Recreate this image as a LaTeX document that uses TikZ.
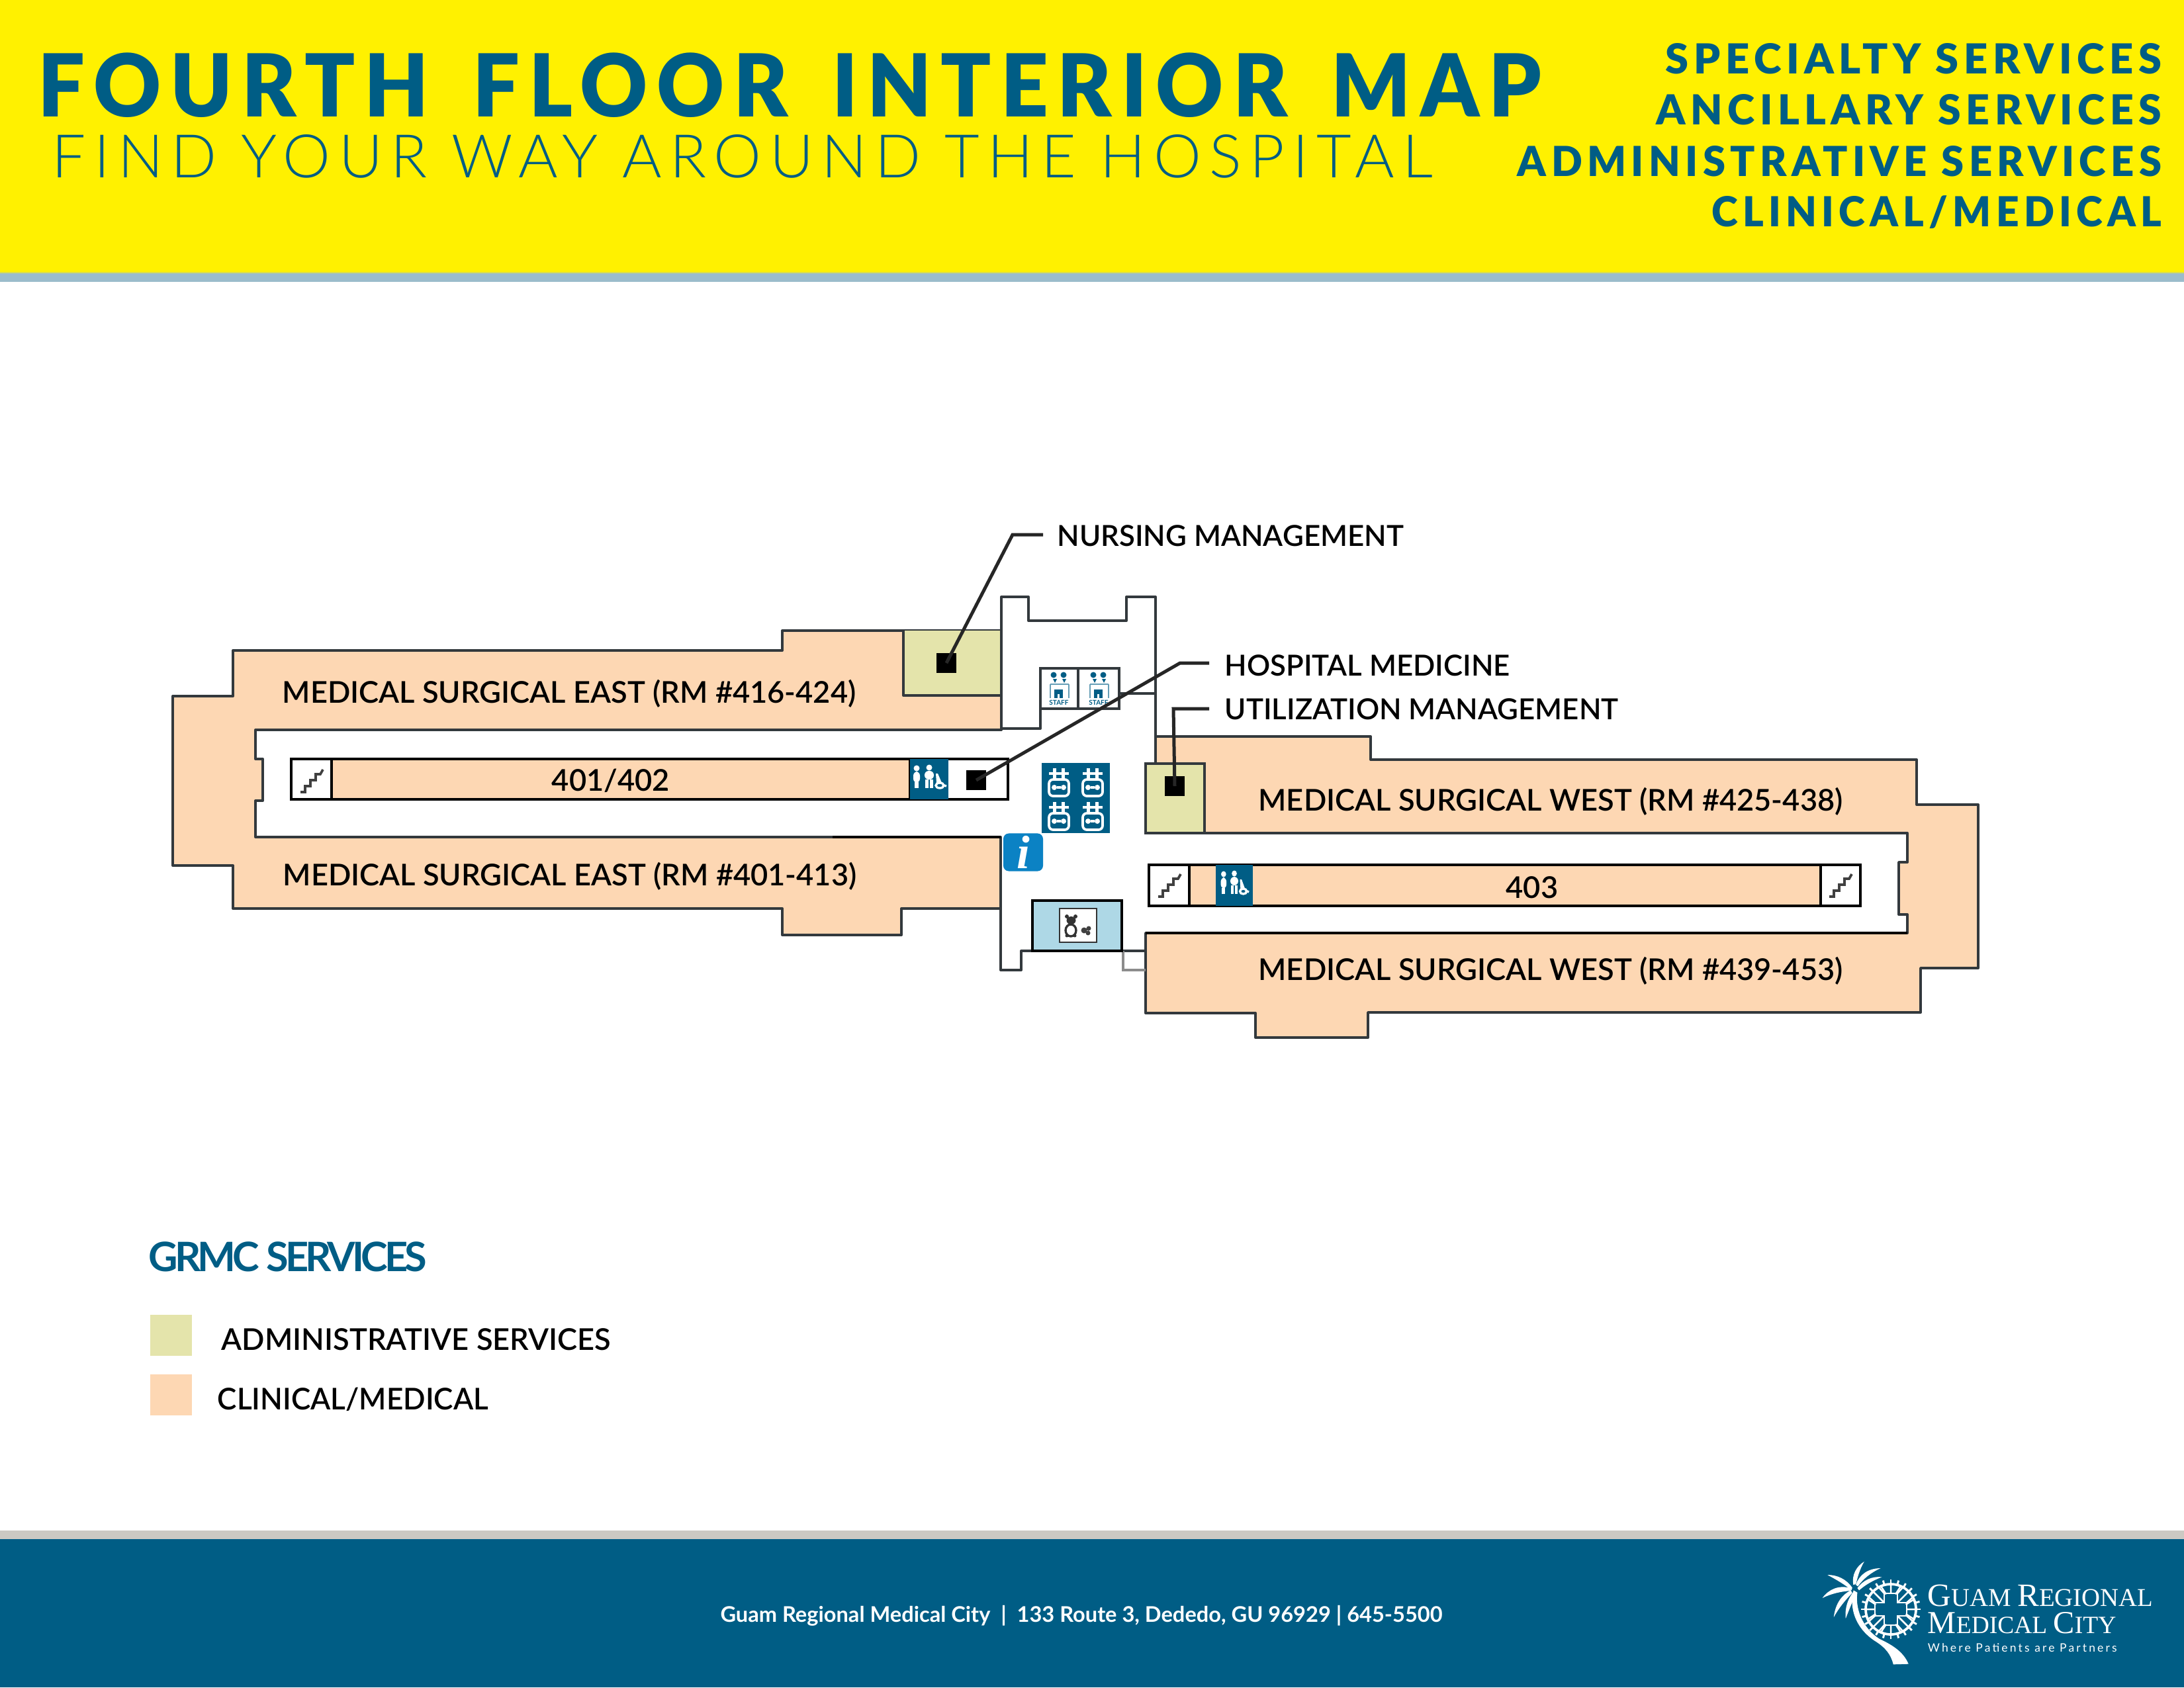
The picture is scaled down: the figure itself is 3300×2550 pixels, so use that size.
\documentclass[tikz,border=0pt]{standalone}
\usepackage{fontspec}
\usepackage{graphicx}
\setmainfont{Lato}
\newfontfamily\titlefont{Lato}[UprightFont=* Black,LetterSpace=11,WordSpace=1.55]
\newfontfamily\subfont{Lato}[UprightFont=* Light,LetterSpace=13.4]
\newfontfamily\listfont{Lato}[UprightFont=* Black,LetterSpace=12]
\newfontfamily\labelfont{Lato}[UprightFont=* Semibold]
\newfontfamily\logofont{Liberation Serif}
\definecolor{hdryellow}{HTML}{FFF100}
\definecolor{hdrblue}{HTML}{005D85}
\definecolor{stripblue}{HTML}{9BBCCB}
\definecolor{footgrey}{HTML}{CBC9C3}
\definecolor{clinical}{HTML}{FDD7B3}
\definecolor{admin}{HTML}{E4E4AB}
\definecolor{lobby}{HTML}{AED8E6}
\definecolor{infoblue}{HTML}{0B82C4}
\definecolor{wall}{HTML}{33393D}
\tikzset{
  block/.style={fill=clinical,draw=wall,line width=.95pt,line join=round},
  wallline/.style={draw=wall,line width=.95pt,line join=round},
  marker/.style={fill=black,minimum size=7pt,inner sep=0pt,rectangle},
  leader/.style={draw=black!85,line width=1.2pt,line join=miter},
  maplabel/.style={font=\labelfont\fontsize{10.85pt}{12pt}\selectfont,inner sep=0pt,text height=7.7pt,text depth=0pt},
  calllabel/.style={maplabel,font=\labelfont\fontsize{10.5pt}{12pt}\selectfont},
  legendbox/.style={minimum width=15.1pt,minimum height=15.1pt,inner sep=0pt},
  stairicon/.pic={
    \draw[draw=black!75,line width=.9pt] (-17,17) -- (-10,17) -- (-10,8) -- (-2,8) -- (-2,-1) -- (6,-1) -- (6,-10) -- (13,-10) -- (17,-17);
  },
  wcicon/.pic={
    \fill[white] (-19,-17) circle (4.5);
    \fill[white,rounded corners=1.5pt] (-24,-12) rectangle (-14,5);
    \fill[white] (-22,4) rectangle (-16,13);
    \fill[white] (0,-18) circle (4.5);
    \fill[white,rounded corners=1.5pt] (-7,-13) rectangle (7,0);
    \fill[white] (-6,0) rectangle (-1,13);
    \fill[white] (1,0) rectangle (6,13);
    \fill[white] (10,-9) -- (13,-9) -- (19,5) -- (11,5) -- cycle;
    \draw[white,line width=.8pt] (16,9) ellipse (6 and 4);
    \draw[white,line width=.8pt] (20,8) -- (26,10);
  },
  lifticon/.pic={
    \draw[white,line width=.9pt,rounded corners=1.5pt] (-15,-4) rectangle (15,21);
    \fill[white] (-9,-21) rectangle (-4,-6);
    \fill[white] (4,-21) rectangle (9,-6);
    \fill[white] (-15,-15) rectangle (15,-11);
    \fill[white] (-7,8) circle (4);
    \fill[white] (7,8) circle (4);
    \fill[white] (-3,6) rectangle (3,10);
  },
  stafficon/.pic={
    \fill[hdrblue] (-8,-20) circle (4.5);
    \fill[hdrblue] (7,-20) circle (4.5);
    \fill[hdrblue] (-9,-14) -- (-3,-14) -- (-6,-8) -- cycle;
    \fill[hdrblue] (5,-14) -- (11,-14) -- (8,-8) -- cycle;
    \fill[hdrblue] (-7,2) rectangle (-2,15);
    \fill[hdrblue] (1,2) rectangle (6,15);
    \fill[hdrblue] (-7,2) rectangle (6,9);
    \draw[hdrblue!60,line width=.4pt] (-13,-6) -- (-13,15) (15,-6) -- (15,15) (-13,-6) -- (15,-6);
    \node[text=hdrblue,font=\fontsize{2.4pt}{2.5pt}\selectfont\bfseries,inner sep=0pt] at (0,22) {STAFF};
  }
}
\begin{document}
\begin{tikzpicture}[x=.24pt,y=-.24pt]
\useasboundingbox (0,0) rectangle (3300,2550);
\fill[white] (0,0) rectangle (3300,2550);
% header
\fill[hdryellow] (0,0) rectangle (3300,412);
\fill[stripblue] (0,412) rectangle (3300,426);
\draw[hdryellow!60!stripblue,line width=.4pt] (0,412) -- (3300,412);
\node[anchor=west,text=hdrblue,inner sep=0pt,text height=22.6pt,text depth=0pt,font=\titlefont\fontsize{31.5pt}{34pt}\selectfont] (maintitle) at (57,129) {\scalebox{.956}[1]{FOURTH FLOOR INTERIOR MAP}};
\node[anchor=west,text=hdrblue,inner sep=0pt,text height=15.6pt,text depth=0pt,font=\subfont\fontsize{21.8pt}{24pt}\selectfont] (subtitle) at (78,236) {FIND YOUR WAY AROUND THE HOSPITAL};
\foreach \name/\ypos/\fac/\txt in {spec/89/1.011/SPECIALTY SERVICES,anci/166/1/ANCILLARY SERVICES,admn/244/.985/ADMINISTRATIVE SERVICES,clin/321/.967/{CLINICAL/MEDICAL}}
  \node[anchor=east,text=hdrblue,inner sep=0pt,font=\listfont\fontsize{15pt}{17pt}\selectfont] (\name) at (3267,\ypos) {\scalebox{\fac}[1]{\txt}};
% footer
\fill[footgrey] (0,2313) rectangle (3300,2326);
\fill[hdrblue] (0,2326) rectangle (3300,2550);
\node[text=white,inner sep=0pt,font=\bfseries\fontsize{7.82pt}{9pt}\selectfont] (address) at (1634,2442) {Guam Regional Medical City~~|~~133 Route 3, Dededo, GU 96929 | 645-5500};
% east wing
\path[block] (352,983) -- (1182,983) -- (1182,953) -- (1513,953) -- (1513,1103) -- (386,1103) -- (386,1147) -- (397,1147) -- (397,1210) -- (386,1210) -- (386,1265) -- (1512,1265) -- (1512,1373) -- (1362,1373) -- (1362,1413) -- (1182,1413) -- (1182,1373) -- (352,1373) -- (352,1308) -- (261,1308) -- (261,1052) -- (352,1052) -- cycle;
\fill[admin] (1365,953) rectangle (1513,1051);
\draw[wallline] (1365,953) -- (1365,1051) -- (1513,1051);
\draw[black,line width=.95pt] (1258,1265) -- (1512,1265);
% west wing
\path[block] (1746,1113) -- (2071,1113) -- (2071,1148) -- (2896,1148) -- (2896,1216) -- (2989,1216) -- (2989,1463) -- (2902,1463) -- (2902,1530) -- (2067,1530) -- (2067,1568) -- (1897,1568) -- (1897,1531) -- (1731,1531) -- (1731,1410) -- (2882,1410) -- (2882,1382) -- (2869,1382) -- (2869,1303) -- (2882,1303) -- (2882,1259) -- (1731,1259) -- (1731,1154) -- (1746,1154) -- cycle;
\path[fill=admin,draw=wall,line width=.95pt] (1731,1154) rectangle (1820,1259);
\draw[black,line width=.95pt] (1731,1410) -- (2882,1410);
% core walls
\draw[wallline] (1513,1103) -- (1513,902) -- (1554,902) -- (1554,938) -- (1702,938) -- (1702,902) -- (1746,902) -- (1746,1113);
\draw[wallline] (1513,1101) -- (1572,1101) -- (1572,1071);
\draw[wallline] (1691,1048) -- (1746,1048);
\path[fill=white,draw=wall,line width=.95pt] (1572,1010) rectangle (1629,1071);
\path[fill=white,draw=wall,line width=.95pt] (1629,1010) rectangle (1691,1071);
\pic at (1600,1040) {stafficon};
\pic at (1660,1040) {stafficon};
\draw[wallline] (1512,1373) -- (1512,1466) -- (1543,1466) -- (1543,1437) -- (1731,1437);
\draw[draw=black!45,line width=.95pt] (1697,1437) -- (1697,1466) -- (1731,1466);
% 401/402
\path[fill=white,draw=black,line width=.95pt] (440,1147) rectangle (1523,1208);
\path[fill=clinical,draw=black,line width=.95pt] (501,1147) rectangle (1375,1208);
\fill[hdrblue] (1375,1147) rectangle (1433,1208);
\pic at (1404,1178) {wcicon};
\pic at (471,1180) {stairicon};
\node[maplabel] (core401) at (923,1179) {401/402};
% 403
\path[fill=white,draw=black,line width=.95pt] (1736,1307) rectangle (2811,1369);
\path[fill=clinical,draw=black,line width=.95pt] (1797,1307) rectangle (2751,1369);
\fill[hdrblue] (1837,1307) rectangle (1893,1369);
\pic[xscale=.85] at (1865,1338) {wcicon};
\pic at (1767,1338) {stairicon};
\pic at (2781,1338) {stairicon};
\node[maplabel] (core403) at (2315,1341) {403};
% elevators and info
\fill[hdrblue] (1574,1153) rectangle (1677,1259);
\foreach \xpos in {1600,1651} \foreach \ypos in {1182,1233} \pic at (\xpos,\ypos) {lifticon};
\node[fill=infoblue,rounded corners=2pt,minimum width=14.4pt,minimum height=13.7pt,inner sep=0pt,text=white,font=\logofont\bfseries\itshape\fontsize{17pt}{13pt}\selectfont] (info) at (1546,1288) {i};
% lobby
\path[fill=lobby,draw=black,line width=.95pt] (1560,1361) rectangle (1695,1437);
\path[fill=white,draw=black!80,line width=.7pt] (1601,1373) rectangle (1657,1424);
\fill[black!80] (1612,1385) circle (3) (1625,1385) circle (3);
\fill[black!80] (1618.5,1391) ellipse (7 and 6);
\draw[black!80,line width=.8pt] (1618,1406) ellipse (8 and 9);
\fill[black!80] (1612,1414) circle (2.5) (1624,1414) circle (2.5);
\fill[black!75] (1638,1406) circle (4.5) (1645,1403) circle (3.5) (1644,1410) circle (3.5);
% room labels
\node[maplabel] (eastupper) at (860,1046) {MEDICAL SURGICAL EAST (RM \#416-424)};
\node[maplabel] (eastlower) at (861,1322) {MEDICAL SURGICAL EAST (RM \#401-413)};
\node[maplabel] (westupper) at (2343,1209) {MEDICAL SURGICAL WEST (RM \#425-438)};
\node[maplabel] (westlower) at (2343,1465) {MEDICAL SURGICAL WEST (RM \#439-453)};
% call-outs
\node[marker] (nursing) at (1430,1002) {};
\node[marker] (hospmed) at (1475,1179) {};
\node[marker] (utilmgt) at (1775,1188) {};
\coordinate (nursingbend) at (1530,808);
\coordinate (hospmedbend) at (1783,1002);
\coordinate (utilmgtbend) at (1773,1071);
\node[calllabel,anchor=west,inner xsep=5pt] (nursinglabel) at (1576,809) {NURSING MANAGEMENT};
\node[calllabel,anchor=west,inner xsep=5.5pt] (hospmedlabel) at (1827,1005) {HOSPITAL MEDICINE};
\node[calllabel,anchor=west,inner xsep=5.5pt] (utilmgtlabel) at (1827,1071) {UTILIZATION MANAGEMENT};
\draw[leader] (nursing.center) -- (nursingbend) -- (nursingbend -| nursinglabel.west);
\draw[leader] (hospmed.center) -- (hospmedbend) -- (hospmedbend -| hospmedlabel.west);
\draw[leader] (utilmgt.center) -- (utilmgtbend) -- (utilmgtbend -| utilmgtlabel.west);
% legend
\node[anchor=west,text=hdrblue,inner sep=0pt,font=\bfseries\fontsize{14.7pt}{16pt}\selectfont\addfontfeatures{LetterSpace=-8}] (legendtitle) at (224,1899) {GRMC SERVICES};
\node[legendbox,fill=admin] (adminbox) at (258.5,2018) {};
\node[legendbox,fill=clinical] (clinbox) at (258.5,2108) {};
\node[maplabel,anchor=west] (adminlabel) at (334,2024) {ADMINISTRATIVE SERVICES};
\node[maplabel,anchor=west] (clinlabel) at (328,2114) {\scalebox{.975}[1]{CLINICAL/MEDICAL}};
% logo
\begin{scope}[shift={(2700,2320)},xscale=.3827,yscale=.3333]
\fill[white] (263,250) .. controls (245,330) and (270,420) .. (345,478) .. controls (390,510) and (410,540) .. (420,586) -- (480,584) .. controls (460,530) and (420,500) .. (365,470) .. controls (310,430) and (268,350) .. (278,260) -- cycle;
\fill[white] (262,225) .. controls (255,180) and (275,140) .. (305,120) .. controls (285,160) and (280,190) .. (272,222) -- cycle;
\fill[white] (272,225) .. controls (285,180) and (320,150) .. (370,150) .. controls (330,170) and (300,200) .. (280,232) -- cycle;
\fill[white] (278,240) .. controls (300,205) and (335,185) .. (375,190) .. controls (340,205) and (310,225) .. (285,250) -- cycle;
\fill[white] (258,238) .. controls (235,200) and (200,180) .. (160,180) .. controls (200,205) and (230,225) .. (255,250) -- cycle;
\fill[white] (252,240) .. controls (205,225) and (165,245) .. (140,285) .. controls (175,265) and (215,255) .. (252,252) -- cycle;
\fill[white] (252,250) .. controls (210,275) and (190,320) .. (185,372) .. controls (205,330) and (230,295) .. (258,262) -- cycle;
\fill[white] (262,258) .. controls (240,290) and (228,330) .. (232,378) .. controls (245,340) and (255,310) .. (270,275) -- cycle;
\end{scope}
\begin{scope}[shift={(2857,2432)}]
\draw[white,line width=.6pt] (-10,-24) -- (10,-24) -- (10,-10) -- (24,-10) -- (24,10) -- (10,10) -- (10,24) -- (-10,24) -- (-10,10) -- (-24,10) -- (-24,-10) -- (-10,-10) -- cycle;
\draw[white,line width=.9pt] (0,0) circle (38);
\foreach \ang in {0,15,...,345}
  \draw[white,line width=.7pt,rotate=\ang] (0,-38) -- (0,-45);
\foreach \ang in {0,90,180,270}
  \draw[white,line width=.6pt,rotate=\ang] (0,-24) -- (0,-38) (-10,-24) -- (-18,-33) (10,-24) -- (18,-33);
\foreach \ang in {45,135,225,315}
  \draw[white,line width=.6pt,rotate=\ang] (0,-14) -- (0,-38) (-11,-21) -- (-14,-35) (11,-21) -- (14,-35);
\end{scope}
\node[anchor=west,text=white,inner sep=0pt,font=\logofont\fontsize{9.3pt}{9pt}\selectfont] (logoline) at (2912,2411) {{\fontsize{11.8pt}{9pt}\selectfont G}UAM {\fontsize{11.8pt}{9pt}\selectfont R}EGIONAL};
\node[anchor=west,text=white,inner sep=0pt,font=\logofont\fontsize{9.0pt}{9pt}\selectfont] (logolinetwo) at (2912,2453) {{\fontsize{11.6pt}{9pt}\selectfont M}EDICAL {\fontsize{11.6pt}{9pt}\selectfont C}ITY};
\node[anchor=west,text=white,inner sep=0pt,font=\fontsize{4.2pt}{5pt}\selectfont\addfontfeatures{LetterSpace=18}] (logotag) at (2912,2490) {Where Patients are Partners};
\end{tikzpicture}
\end{document}
